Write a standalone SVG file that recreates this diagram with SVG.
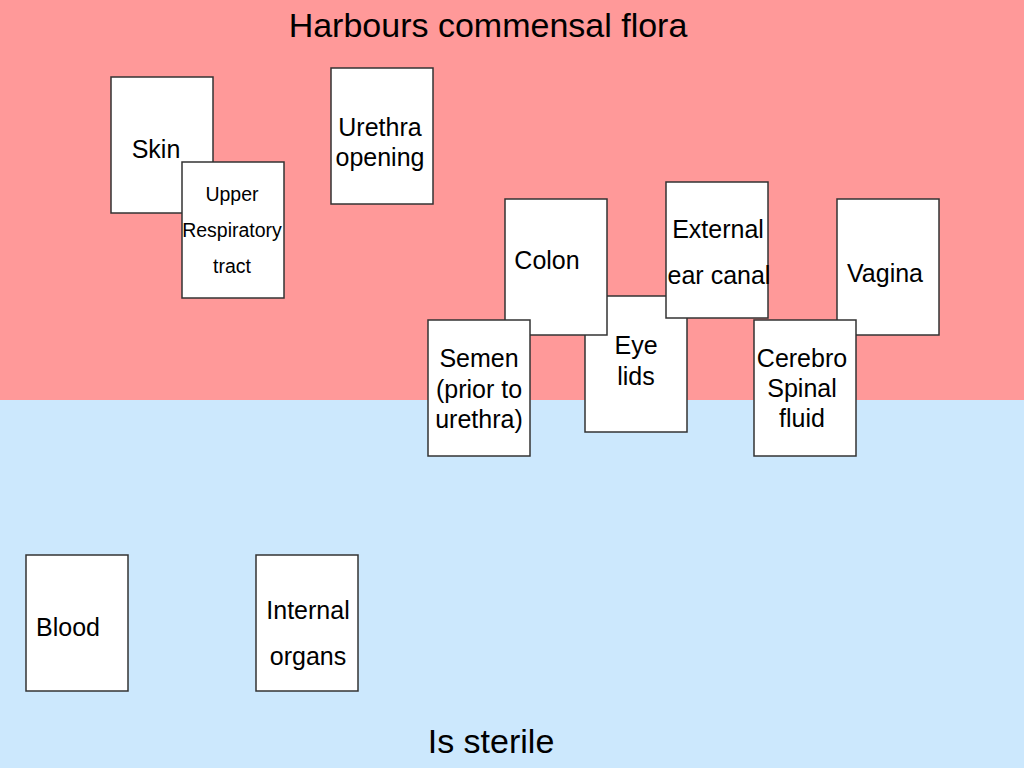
<svg xmlns="http://www.w3.org/2000/svg" width="1024" height="768" viewBox="0 0 1024 768">
<style>
.box{fill:#ffffff;stroke:#333333;stroke-width:1.5}
.t{font-family:"Liberation Sans",Arial,sans-serif;font-size:25px;fill:#000;text-anchor:middle}
.s{font-size:19.5px}
.h{font-family:"Liberation Sans",Arial,sans-serif;font-size:34px;fill:#000;text-anchor:middle}
</style>
<rect x="0" y="0" width="1024" height="400" fill="#ff9999"/>
<rect x="0" y="400" width="1024" height="368" fill="#cce8fd"/>
<text class="h" x="488" y="37">Harbours commensal flora</text>
<text class="h" x="491" y="753">Is sterile</text>
<g id="skin"><rect class="box" x="111" y="77" width="102" height="136"/><text class="t" x="156" y="158">Skin</text></g>
<g id="upper-respiratory"><rect class="box" x="182" y="162" width="102" height="136"/><text class="t s" x="232" y="201">Upper</text><text class="t s" x="232" y="237">Respiratory</text><text class="t s" x="232" y="273">tract</text></g>
<g id="urethra"><rect class="box" x="331" y="68" width="102" height="136"/><text class="t" x="380" y="136">Urethra</text><text class="t" x="380" y="166">opening</text></g>
<g id="eye-lids"><rect class="box" x="585" y="296" width="102" height="136"/><text class="t" x="636" y="354">Eye</text><text class="t" x="636" y="385">lids</text></g>
<g id="colon"><rect class="box" x="505" y="199" width="102" height="136"/><text class="t" x="547" y="269">Colon</text></g>
<g id="semen"><rect class="box" x="428" y="320" width="102" height="136"/><text class="t" x="479" y="367">Semen</text><text class="t" x="479" y="398">(prior to</text><text class="t" x="479" y="428">urethra)</text></g>
<g id="external-ear"><rect class="box" x="666" y="182" width="102" height="136"/><text class="t" x="718" y="238">External</text><text class="t" x="719" y="284">ear canal</text></g>
<g id="vagina"><rect class="box" x="837" y="199" width="102" height="136"/><text class="t" x="885" y="282">Vagina</text></g>
<g id="csf"><rect class="box" x="754" y="320" width="102" height="136"/><text class="t" x="802" y="367">Cerebro</text><text class="t" x="802" y="397">Spinal</text><text class="t" x="802" y="427">fluid</text></g>
<g id="blood"><rect class="box" x="26" y="555" width="102" height="136"/><text class="t" x="68" y="636">Blood</text></g>
<g id="internal-organs"><rect class="box" x="256" y="555" width="102" height="136"/><text class="t" x="308" y="619">Internal</text><text class="t" x="308" y="665">organs</text></g>
<g id="connectors"></g>
</svg>
